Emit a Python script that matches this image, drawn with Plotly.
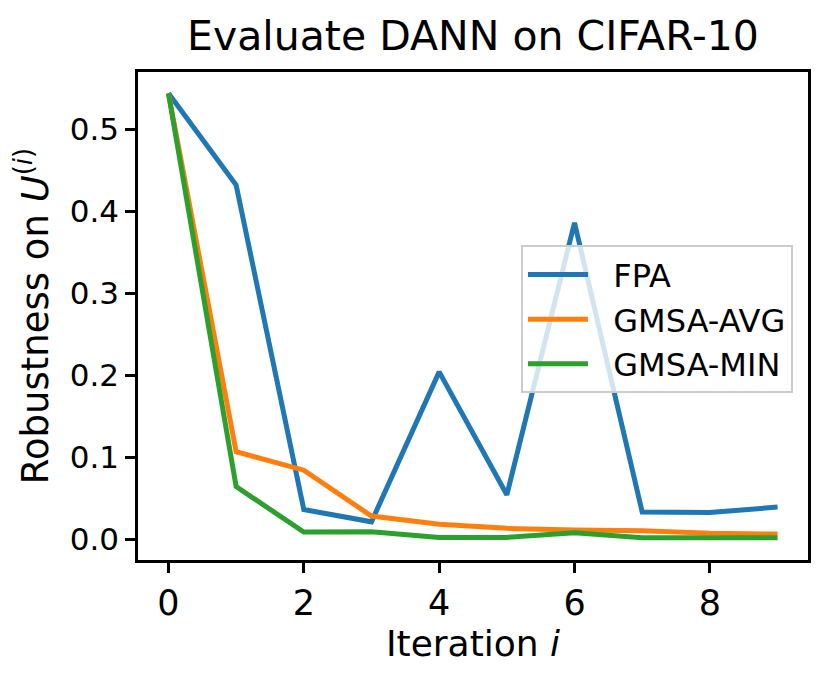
import plotly.graph_objects as go

iterations = [0, 1, 2, 3, 4, 5, 6, 7, 8, 9]
fpa = [0.544, 0.432, 0.036, 0.021, 0.204, 0.054, 0.386, 0.033, 0.0325, 0.039]
gmsa_avg = [0.544, 0.1065, 0.084, 0.028, 0.018, 0.013, 0.011, 0.010, 0.007, 0.006]
gmsa_min = [0.544, 0.064, 0.0085, 0.009, 0.002, 0.002, 0.0077, 0.0016, 0.0016, 0.0016]

series_names = ["FPA", "GMSA-AVG", "GMSA-MIN"]
series_values = [fpa, gmsa_avg, gmsa_min]
series_colors = ["#1f77b4", "#ff7f0e", "#2ca02c"]

x_ticks = [0, 2, 4, 6, 8]
y_ticks = [0.0, 0.1, 0.2, 0.3, 0.4, 0.5]

FONT = "DejaVu Sans"
NB = "\u00a0\u00a0"

fig = go.Figure()
for name, vals, col in zip(series_names, series_values, series_colors):
    fig.add_trace(go.Scatter(
        x=iterations, y=vals, mode="lines", name=NB + name,
        legendgroup=name,
        line=dict(color=col, width=5),
    ))

# the page body adds an 8px offset; figure is sized to fit the 829x685 window
fig.update_layout(
    width=821, height=677,
    margin=dict(l=130, r=21, t=64, b=125, autoexpand=False),
    paper_bgcolor="white", plot_bgcolor="white",
    font=dict(family=FONT, color="black"),
    title=dict(
        text="Evaluate DANN on CIFAR-10",
        font=dict(family=FONT, size=41, color="black"),
        x=0.5, xanchor="center", xref="paper",
        y=1 - 28 / 677, yanchor="middle", yref="container",
    ),
    showlegend=True,
    legend=dict(
        x=0.5716, y=0.645, xanchor="left", yanchor="top",
        bgcolor="rgba(255,255,255,0.8)",
        bordercolor="#cccccc", borderwidth=2,
        font=dict(family=FONT, size=32, color="black"),
        itemwidth=60,
        tracegroupgap=0,
    ),
    xaxis=dict(
        range=[-0.45, 9.45],
        tickmode="array", tickvals=x_ticks,
        ticktext=[str(v) for v in x_ticks],
        tickfont=dict(family=FONT, size=35, color="black"),
        ticks="outside", ticklen=10, tickwidth=2.5, tickcolor="black",
        showline=True, linewidth=2.5, linecolor="black", mirror=True,
        showgrid=False, zeroline=False,
        title=dict(text="Iteration <i>i</i>",
                   font=dict(family=FONT, size=36, color="black"),
                   standoff=6),
    ),
    yaxis=dict(
        range=[-0.0256, 0.5700],
        tickmode="array", tickvals=y_ticks,
        ticktext=[f"{v:.1f}" for v in y_ticks],
        tickfont=dict(family=FONT, size=31, color="black"),
        ticks="outside", ticklen=10, tickwidth=2.5, tickcolor="black",
        showline=True, linewidth=2.5, linecolor="black", mirror=True,
        showgrid=False, zeroline=False,
        title=dict(text="Robustness on <i>U</i><sup>(<i>i</i>)</sup>",
                   font=dict(family=FONT, size=37, color="black"),
                   standoff=12),
    ),
)

fig.write_html("out.html")
